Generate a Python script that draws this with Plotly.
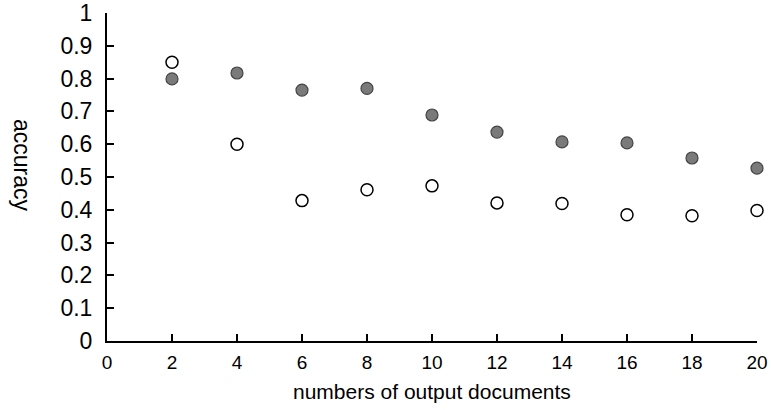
import plotly.graph_objects as go

x_docs = [2, 4, 6, 8, 10, 12, 14, 16, 18, 20]
filled_acc = [0.799, 0.817, 0.765, 0.770, 0.689, 0.637, 0.607, 0.604, 0.558, 0.527]
open_acc = [0.850, 0.600, 0.428, 0.461, 0.473, 0.421, 0.419, 0.385, 0.382, 0.398]

x_ticks = [0, 2, 4, 6, 8, 10, 12, 14, 16, 18, 20]
y_ticks = [0, 0.1, 0.2, 0.3, 0.4, 0.5, 0.6, 0.7, 0.8, 0.9, 1]
y_tick_text = ["0", "0.1", "0.2", "0.3", "0.4", "0.5", "0.6", "0.7", "0.8", "0.9", "1"]

fig = go.Figure()
fig.add_trace(go.Scatter(
    x=x_docs, y=filled_acc, mode="markers", cliponaxis=False, showlegend=False,
    marker=dict(size=12, color="#7a7a7a", line=dict(color="#444444", width=1.2)),
))
fig.add_trace(go.Scatter(
    x=x_docs, y=open_acc, mode="markers", cliponaxis=False, showlegend=False,
    marker=dict(size=12, color="white", line=dict(color="black", width=1.5)),
))

font_family = "Liberation Sans, Arial, sans-serif"
fig.update_layout(
    width=771, height=410,
    margin=dict(l=107, r=14, t=13, b=69),
    paper_bgcolor="white", plot_bgcolor="white",
    font=dict(family=font_family, color="black"),
    xaxis=dict(
        range=[0, 20], tickmode="array", tickvals=x_ticks, ticktext=[str(v) for v in x_ticks],
        showline=True, linecolor="black", linewidth=2, showgrid=False, zeroline=False,
        ticks="inside", ticklen=7, tickwidth=1.5, tickcolor="black",
        tickfont=dict(size=19), ticklabelstandoff=3, automargin=False,
        ticklabeloverflow="allow",
    ),
    yaxis=dict(
        range=[0, 1], tickmode="array", tickvals=y_ticks, ticktext=y_tick_text,
        showline=True, linecolor="black", linewidth=2, showgrid=False, zeroline=False,
        ticks="inside", ticklen=7, tickwidth=1.5, tickcolor="black",
        tickfont=dict(size=23), ticklabelstandoff=8, automargin=False,
        ticklabeloverflow="allow",
    ),
    annotations=[
        dict(text="numbers of output documents", xref="paper", yref="paper",
             x=0.5, y=0, yshift=-50, xanchor="center", yanchor="middle",
             showarrow=False, font=dict(size=21)),
        dict(text="accuracy", xref="paper", yref="paper",
             x=0, y=0.5, xshift=-85, yshift=12, xanchor="center", yanchor="middle",
             textangle=90, showarrow=False, font=dict(size=23)),
    ],
)

fig.write_html("out.html", config={"displayModeBar": False},
               post_script="document.body.style.margin='0';")
